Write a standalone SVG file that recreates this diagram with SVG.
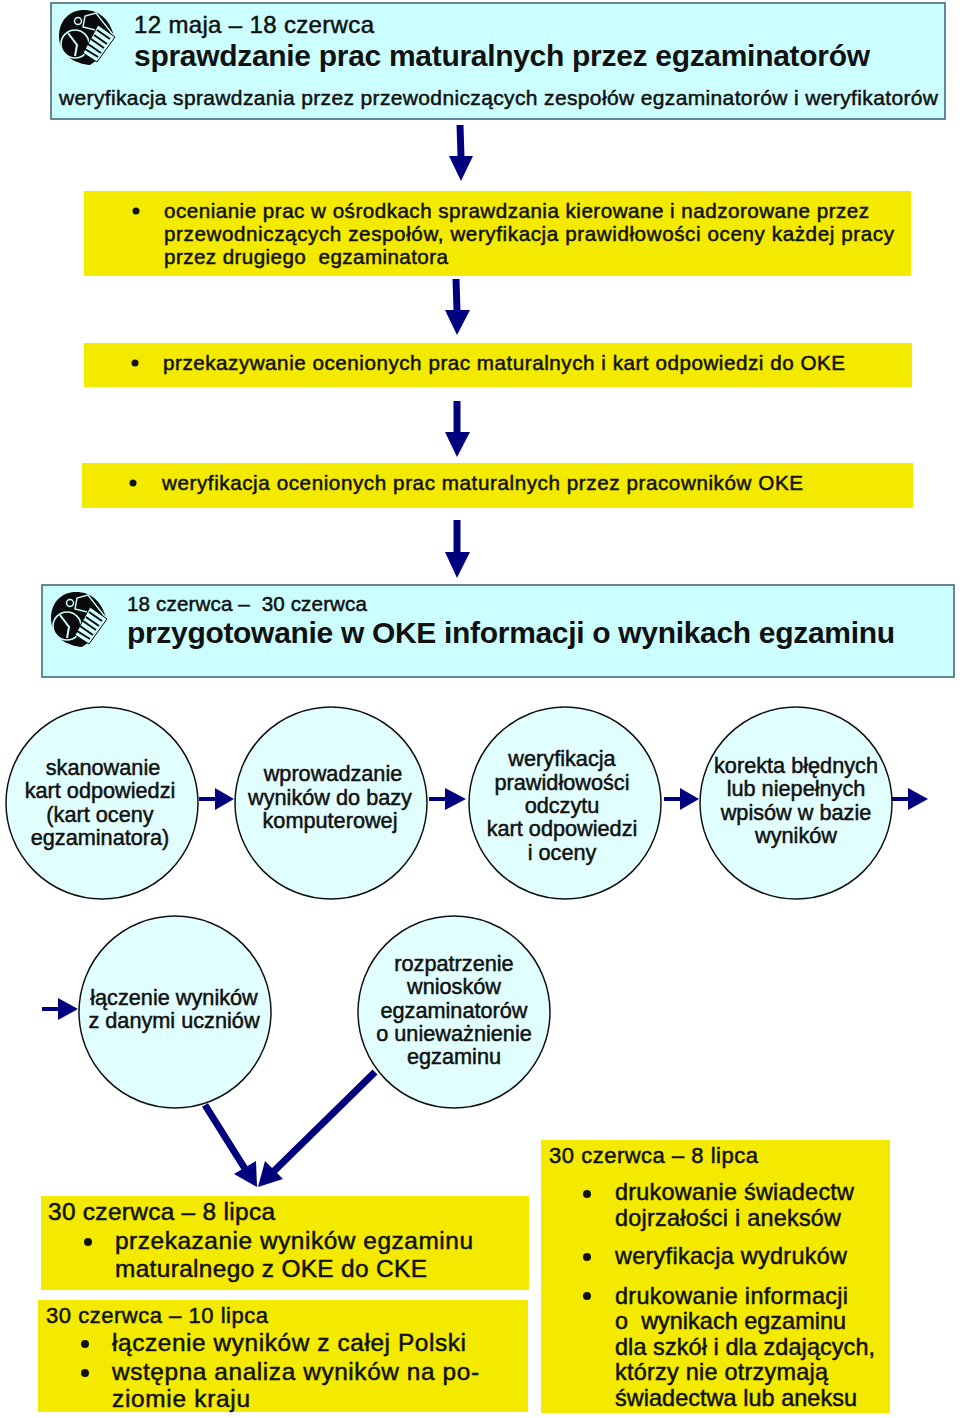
<svg xmlns="http://www.w3.org/2000/svg" width="960" height="1418" viewBox="0 0 960 1418">
<style>
text{font-family:"Liberation Sans",Arial,sans-serif;fill:#111;white-space:pre}
.b{stroke:#111;stroke-width:.5px}
.t{font-weight:bold;font-size:30px}
.s20{font-size:20.6px}.s21{font-size:21.7px}.s21n{font-size:21px}.s22{font-size:22px}.s23{font-size:23.4px}.s24{font-size:24.4px}.s24n{font-size:24px}
.c{text-anchor:middle}
.box{fill:#ccffff;stroke:#3a5f78;stroke-width:1.5}
.y{fill:#f3ea00}
.circ{fill:#e2ffff;stroke:#111;stroke-width:1.5}
.ln{stroke:#00007f;fill:none}
.hd{fill:#00007f}
.dot{fill:#111}
</style>
<defs>
<g id="ico">
<path d="M1 26C1 10 12 0 26 0C40 0 51 8 56 26L42 48L32 55C18 54 1 46 1 26Z" fill="#0a0a0a"/>
<circle cx="17" cy="34" r="14" fill="none" stroke="#cfffff" stroke-width="1.6"/>
<path d="M10 23L19 35L17 46" fill="none" stroke="#cfffff" stroke-width="2"/>
<circle cx="20" cy="11" r="3.5" fill="none" stroke="#cfffff" stroke-width="1.5"/>
<path d="M25 17L27 6L38 3L56 26L45 22Z" fill="#0a0a0a" stroke="#cfffff" stroke-width="1.4"/>
<path d="M40 15L57 27L39 52L25 43Z" fill="#cfffff" stroke="#0a0a0a" stroke-width="1"/>
<path d="M39 20L52 29M36 25L49 34M33 29L46 38M30 34L43 43M27 39L40 47" stroke="#0a0a0a" stroke-width="2" fill="none"/>
</g>
</defs>
<g id="connectors">
<path class="ln" stroke-width="7" d="M460 125L461 157"/><path class="hd" d="M449 156L473 156L461 181Z"/>
<path class="ln" stroke-width="7" d="M456 279L457 311"/><path class="hd" d="M445 310L470 310L457 335Z"/>
<path class="ln" stroke-width="7" d="M457 401L457 433"/><path class="hd" d="M445 432L470 432L457 457Z"/>
<path class="ln" stroke-width="7" d="M457 520L457 553"/><path class="hd" d="M445 552L470 552L457 578Z"/>
<path class="ln" stroke-width="4" d="M199 799L217 799"/><path class="hd" d="M215 788L234 799L215 810Z"/>
<path class="ln" stroke-width="4" d="M429 799L447 799"/><path class="hd" d="M445 788L466 799L445 810Z"/>
<path class="ln" stroke-width="4" d="M664 799L682 799"/><path class="hd" d="M680 788L699 799L680 810Z"/>
<path class="ln" stroke-width="4" d="M892 799L910 799"/><path class="hd" d="M908 788L928 799L908 810Z"/>
<path class="ln" stroke-width="4" d="M42 1009L60 1009"/><path class="hd" d="M58 998L78 1009L58 1020Z"/>
<path class="ln" stroke-width="7" d="M205 1105L247 1172"/><path class="hd" d="M234 1174L256 1161L257 1187Z"/>
<path class="ln" stroke-width="7" d="M375 1072L272 1173"/><path class="hd" d="M265 1161L283 1179L258 1187Z"/>
</g>
<g id="n1">
<rect class="box" x="51" y="3" width="894" height="116"/>
<use href="#ico" x="58" y="10"/>
<text class="s24n b" x="134" y="33" textLength="240" lengthAdjust="spacing">12 maja – 18 czerwca</text>
<text class="t" x="134" y="66" textLength="736" lengthAdjust="spacing">sprawdzanie prac maturalnych przez egzaminatorów</text>
<text class="s21n b" x="59" y="105" textLength="879" lengthAdjust="spacing">weryfikacja sprawdzania przez przewodniczących zespołów egzaminatorów i weryfikatorów</text>
</g>
<g id="n2">
<rect class="y" x="84" y="191" width="827" height="85"/>
<circle class="dot" cx="136" cy="211" r="3.5"/>
<text class="s20 b" x="164" y="218" textLength="705" lengthAdjust="spacing">ocenianie prac w ośrodkach sprawdzania kierowane i nadzorowane przez</text>
<text class="s20 b" x="164" y="241" textLength="730" lengthAdjust="spacing">przewodniczących zespołów, weryfikacja prawidłowości oceny każdej pracy</text>
<text class="s20 b" x="164" y="264" textLength="284" lengthAdjust="spacing">przez drugiego  egzaminatora</text>
</g>
<g id="n3">
<rect class="y" x="84" y="343" width="828" height="44"/>
<circle class="dot" cx="135" cy="363" r="3.5"/>
<text class="s20 b" x="163" y="370" textLength="682" lengthAdjust="spacing">przekazywanie ocenionych prac maturalnych i kart odpowiedzi do OKE</text>
</g>
<g id="n4">
<rect class="y" x="82" y="463" width="831" height="45"/>
<circle class="dot" cx="133" cy="483" r="3.5"/>
<text class="s20 b" x="162" y="490" textLength="641" lengthAdjust="spacing">weryfikacja ocenionych prac maturalnych przez pracowników OKE</text>
</g>
<g id="n5">
<rect class="box" x="42" y="585" width="912" height="92"/>
<use href="#ico" x="50" y="592"/>
<text class="s20 b" x="127" y="611" textLength="240" lengthAdjust="spacing">18 czerwca –  30 czerwca</text>
<text class="t" x="127" y="643" textLength="768" lengthAdjust="spacing">przygotowanie w OKE informacji o wynikach egzaminu</text>
</g>
<g id="n6">
<circle class="circ" cx="102" cy="803" r="96"/>
<text class="s21 b c" x="103" y="775">skanowanie</text>
<text class="s21 b c" x="100" y="798">kart odpowiedzi</text>
<text class="s21 b c" x="100" y="822">(kart oceny</text>
<text class="s21 b c" x="100" y="845">egzaminatora)</text>
</g>
<g id="n7">
<circle class="circ" cx="331" cy="803" r="96"/>
<text class="s21 b c" x="333" y="781">wprowadzanie</text>
<text class="s21 b c" x="330" y="805">wyników do bazy</text>
<text class="s21 b c" x="330" y="828">komputerowej</text>
</g>
<g id="n8">
<circle class="circ" cx="565" cy="803" r="96"/>
<text class="s21 b c" x="562" y="766">weryfikacja</text>
<text class="s21 b c" x="562" y="790">prawidłowości</text>
<text class="s21 b c" x="562" y="813">odczytu</text>
<text class="s21 b c" x="562" y="836">kart odpowiedzi</text>
<text class="s21 b c" x="562" y="860">i oceny</text>
</g>
<g id="n9">
<circle class="circ" cx="796" cy="803" r="96"/>
<text class="s21 b c" x="796" y="773">korekta błędnych</text>
<text class="s21 b c" x="796" y="796">lub niepełnych</text>
<text class="s21 b c" x="796" y="820">wpisów w bazie</text>
<text class="s21 b c" x="796" y="843">wyników</text>
</g>
<g id="n10">
<circle class="circ" cx="175" cy="1012" r="96"/>
<text class="s21 b c" x="174" y="1005">łączenie wyników</text>
<text class="s21 b c" x="174" y="1028">z danymi uczniów</text>
</g>
<g id="n11">
<circle class="circ" cx="454" cy="1012" r="96"/>
<text class="s21 b c" x="454" y="971">rozpatrzenie</text>
<text class="s21 b c" x="454" y="994">wniosków</text>
<text class="s21 b c" x="454" y="1018">egzaminatorów</text>
<text class="s21 b c" x="454" y="1041">o unieważnienie</text>
<text class="s21 b c" x="454" y="1064">egzaminu</text>
</g>
<g id="n12">
<rect class="y" x="41" y="1196" width="488" height="94"/>
<text class="s24 b" x="48" y="1220" textLength="227" lengthAdjust="spacing">30 czerwca – 8 lipca</text>
<circle class="dot" cx="88" cy="1242" r="4"/>
<text class="s24 b" x="115" y="1249" textLength="358" lengthAdjust="spacing">przekazanie wyników egzaminu</text>
<text class="s24 b" x="115" y="1277" textLength="312" lengthAdjust="spacing">maturalnego z OKE do CKE</text>
</g>
<g id="n13">
<rect class="y" x="38" y="1300" width="490" height="112"/>
<text class="s22 b" x="46" y="1323" textLength="222" lengthAdjust="spacing">30 czerwca – 10 lipca</text>
<circle class="dot" cx="85" cy="1344" r="4"/>
<text class="s24 b" x="112" y="1351" textLength="354" lengthAdjust="spacing">łączenie wyników z całej Polski</text>
<circle class="dot" cx="85" cy="1373" r="4"/>
<text class="s24 b" x="112" y="1380" textLength="367" lengthAdjust="spacing">wstępna analiza wyników na po-</text>
<text class="s24 b" x="112" y="1407" textLength="138" lengthAdjust="spacing">ziomie kraju</text>
</g>
<g id="n14">
<rect class="y" x="541" y="1140" width="349" height="273"/>
<text class="s22 b" x="549" y="1163" textLength="209" lengthAdjust="spacing">30 czerwca – 8 lipca</text>
<circle class="dot" cx="587" cy="1194" r="4"/>
<text class="s23 b" x="615" y="1200" textLength="239" lengthAdjust="spacing">drukowanie świadectw</text>
<text class="s23 b" x="615" y="1226" textLength="226" lengthAdjust="spacing">dojrzałości i aneksów</text>
<circle class="dot" cx="587" cy="1257" r="4"/>
<text class="s23 b" x="615" y="1264" textLength="232" lengthAdjust="spacing">weryfikacja wydruków</text>
<circle class="dot" cx="587" cy="1296" r="4"/>
<text class="s23 b" x="615" y="1304" textLength="233" lengthAdjust="spacing">drukowanie informacji</text>
<text class="s23 b" x="615" y="1329" textLength="231" lengthAdjust="spacing">o  wynikach egzaminu</text>
<text class="s23 b" x="615" y="1355" textLength="260" lengthAdjust="spacing">dla szkół i dla zdających,</text>
<text class="s23 b" x="615" y="1380" textLength="213" lengthAdjust="spacing">którzy nie otrzymają</text>
<text class="s23 b" x="615" y="1406" textLength="242" lengthAdjust="spacing">świadectwa lub aneksu</text>
</g>
</svg>
